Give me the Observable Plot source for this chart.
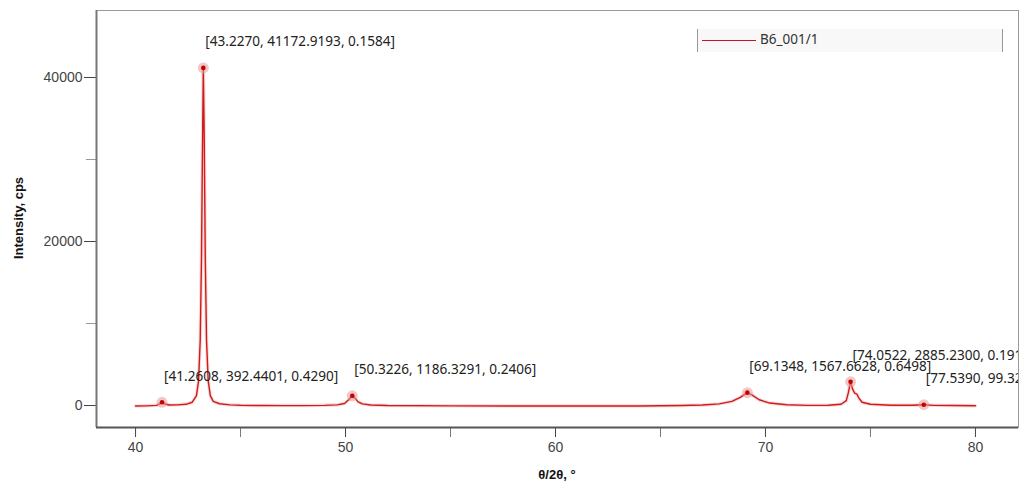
<!DOCTYPE html>
<html>
<head>
<meta charset="utf-8">
<script src="https://cdn.jsdelivr.net/npm/d3@7"></script>
<script src="https://cdn.jsdelivr.net/npm/@observablehq/plot@0.6"></script>
<style>
  html, body { margin: 0; padding: 0; background: #fff; }
  #wrap { position: relative; width: 1022px; height: 486px; }
  #legend { position: absolute; left: 697px; top: 29px; width: 306px; height: 23px;
    background: #f8f8f8; border-left: 1px solid #999; border-right: 1px solid #999; box-sizing: border-box;
    font: 13.5px "Noto Sans", sans-serif; color: #333; }
  #legend .sw { position: absolute; left: 4px; top: 11px; width: 54px; height: 0; border-top: 1.5px solid #c8102e; }
  #legend .lb { position: absolute; left: 62px; top: 1px; }
</style>
</head>
<body>
<div id="wrap"></div>
<script>
// Scan curve (2θ in degrees, intensity in cps)
const twoTheta = [40.0, 40.5, 41.0, 41.15, 41.26, 41.4, 41.6, 42.0, 42.4, 42.7, 42.9, 43.0, 43.08, 43.14, 43.19, 43.227, 43.27, 43.32, 43.38, 43.46, 43.56, 43.7, 44.0, 44.5, 45.0, 46.0, 47.0, 48.0, 49.0, 49.6, 49.95, 50.15, 50.32, 50.45, 50.6, 50.8, 51.2, 52.0, 55.0, 60.0, 64.0, 66.0, 67.0, 67.8, 68.4, 68.8, 69.13, 69.35, 69.7, 70.2, 71.0, 72.0, 73.0, 73.6, 73.85, 73.95, 74.05, 74.15, 74.25, 74.35, 74.45, 74.6, 75.0, 76.0, 77.0, 77.54, 78.0, 79.0, 80.0];
const intensity = [-60, -40, 20, 200, 392, 180, 60, 80, 150, 400, 1200, 3000, 8000, 18000, 32000, 41173, 33000, 18000, 8000, 3000, 1200, 500, 220, 80, 30, 0, -10, -10, 20, 80, 250, 700, 1186, 900, 450, 200, 60, 0, -40, -60, -50, 0, 60, 200, 500, 1000, 1568, 1300, 700, 300, 100, 20, 30, 150, 600, 1600, 2885, 2000, 1500, 1400, 900, 400, 150, 40, 30, 99, 20, 0, -20];

// Labelled peaks: [2θ, intensity, FWHM]
const peakPos = [43.2270, 41.2608, 50.3226, 69.1348, 74.0522, 77.5390];
const peakInt = [41172.9193, 392.4401, 1186.3291, 1567.6628, 2885.2300, 99.3200];
const peakFwhm = [0.1584, 0.4290, 0.2406, 0.6498, 0.1910, 0.2000];

const seriesName = "B6_001/1";
const xMajor = [40, 50, 60, 70, 80];
const xMinor = [45, 55, 65, 75];
const yMajor = [0, 20000, 40000];
const yMinor = [10000, 30000];
const xDomain = [38.14, 82.05];
const yDomain = [-2680, 48170];
const xLabel = "θ/2θ, °";
const yLabel = "Intensity, cps";

const curve = twoTheta.map((x, i) => ({x, y: intensity[i]}));
const peaks = peakPos.map((x, i) => ({
  x, y: peakInt[i],
  label: `[${x.toFixed(4)}, ${peakInt[i].toFixed(4)}, ${peakFwhm[i].toFixed(4)}]`
}));

const red = "#d11a1a";
const chart = Plot.plot({
  width: 1022,
  height: 486,
  marginLeft: 96,
  marginRight: 4,
  marginTop: 10,
  marginBottom: 59,
  style: {background: "#fff", overflow: "visible"},
  x: {domain: xDomain},
  y: {domain: yDomain},
  marks: [
    Plot.frame({stroke: "#9a9a9a", strokeWidth: 1}),
    Plot.axisX({ticks: xMajor, tickSize: 10, tickPadding: 5, stroke: "#444", strokeWidth: 1, label: null,
      fontSize: 14, fontFamily: "Liberation Sans, Arial, sans-serif", fill: "#444"}),
    Plot.axisX({ticks: xMinor, tickSize: 10, tickFormat: () => "", stroke: "#777", label: null}),
    Plot.axisY({ticks: yMajor, tickSize: 12, tickPadding: 2, stroke: "#444", label: null, tickFormat: d => String(d),
      fontSize: 14, fontFamily: "Liberation Sans, Arial, sans-serif", fill: "#444"}),
    Plot.axisY({ticks: yMinor, tickSize: 10, tickFormat: () => "", stroke: "#999", label: null}),
    Plot.ruleX([xDomain[0]], {stroke: "#777", strokeWidth: 2}),
    Plot.ruleY([yDomain[0]], {stroke: "#555", strokeWidth: 2}),
    Plot.line(curve, {x: "x", y: "y", stroke: "#f2b8b8", strokeWidth: 3.5, strokeOpacity: 0.5}),
    Plot.line(curve, {x: "x", y: "y", stroke: red, strokeWidth: 1.4}),
    Plot.dot(peaks, {x: "x", y: "y", r: 5.5, fill: "#e59a9a", fillOpacity: 0.55}),
    Plot.dot(peaks, {x: "x", y: "y", r: 2.3, fill: "#c40000"}),
    Plot.text(peaks, {x: "x", y: "y", text: "label", dx: 2, dy: -26, textAnchor: "start", clip: true,
      fontSize: 13.6, fontFamily: "Noto Sans, sans-serif", fill: "#222"})
  ]
});

// axis titles
const svg = d3.select(chart);
svg.append("text").attr("x", 557).attr("y", 479).attr("text-anchor", "middle")
  .attr("font-family", "Liberation Sans, Arial, sans-serif").attr("font-weight", "bold").attr("font-size", 13)
  .attr("fill", "#111").text(xLabel);
svg.append("text").attr("transform", "translate(23,218) rotate(-90)").attr("text-anchor", "middle")
  .attr("font-family", "Liberation Sans, Arial, sans-serif").attr("font-weight", "bold").attr("font-size", 13)
  .attr("fill", "#111").text(yLabel);

const wrap = document.getElementById("wrap");
wrap.appendChild(chart);
const legend = document.createElement("div");
legend.id = "legend";
legend.innerHTML = `<div class="sw"></div><div class="lb"></div>`;
legend.querySelector(".lb").textContent = seriesName;
wrap.appendChild(legend);
</script>
</body>
</html>
